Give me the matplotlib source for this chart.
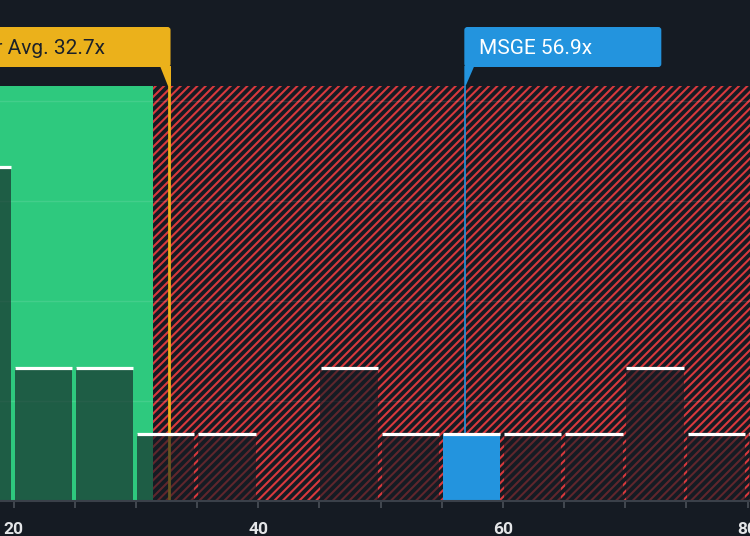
import matplotlib.pyplot as plt
from matplotlib.patches import FancyBboxPatch, Polygon

# histogram of P/E ratios (bin start, count)
bin_starts = [15, 20, 25, 30, 35, 40, 45, 50, 55, 60, 65, 70, 75, 80]
counts = [5, 2, 2, 1, 1, 0, 2, 1, 1, 1, 1, 2, 1, 1]
bin_width = 5
company_bin = 55

peer_avg = 32.7
company_pe = 56.9
green_end = 31.4
peer_label = "Peer Avg. 32.7x"
company_label = "MSGE 56.9x"
tick_values = list(range(20, 81, 5))
grid_values = [1.5, 3, 4.5, 6]

BG = "#151b23"
GREEN = "#2ec97e"
RED = "#d8393d"
YELLOW = "#ebb11b"
BLUE = "#2394de"

plt.rcParams['font.family'] = ['Roboto', 'DejaVu Sans']
plt.rcParams['hatch.linewidth'] = 1.5

fig = plt.figure(figsize=(7.5, 5.36), dpi=100, facecolor=BG)
ax = fig.add_axes([0, 35 / 536, 1, 415 / 536])
x_min, x_max = 18.88, 80.2
ax.set_xlim(x_min, x_max)
ax.set_ylim(0, 6.22)
ax.set_facecolor(BG)

# background zones
ax.axvspan(x_min - 5, green_end, color=GREEN, lw=0, zorder=1)
ax.axvspan(green_end, x_max + 5, facecolor=BG, edgecolor=RED, hatch='////', lw=0, zorder=1)

for g in grid_values:
    ax.axhline(g, color='white', alpha=0.1, lw=1, zorder=2)

ax.axvline(peer_avg, color=YELLOW, lw=2, zorder=3)
ax.axvline(company_pe, color=BLUE, lw=1.2, zorder=3)

# bars
for start, c in zip(bin_starts, counts):
    if c == 0:
        continue
    if start == company_bin:
        ax.bar(start + 0.08, c, width=4.7, align='edge', color=BLUE, zorder=4)
    else:
        ax.bar(start + 0.08, c, width=4.7, align='edge', color=BG, alpha=0.62, lw=0, zorder=4)
    ax.hlines(c, start + 0.1, start + 4.78, color='white', lw=2.3, zorder=5)

# axis styling
for s in ['top', 'left', 'right']:
    ax.spines[s].set_visible(False)
ax.spines['bottom'].set_color('#3a4049')
ax.spines['bottom'].set_linewidth(1.5)
ax.spines['bottom'].set_zorder(6)
ax.set_yticks([])
ax.set_xticks(tick_values)
ax.set_xticklabels([str(t) if t % 20 == 0 else '' for t in tick_values])
ax.tick_params(axis='x', colors='#4a5058', length=5, width=1.2, pad=10,
               labelcolor='#e4e6e8', labelsize=12.5)
for lbl in ax.get_xticklabels():
    lbl.set_fontweight('bold')

# callouts in pixel space
ov = fig.add_axes([0, 0, 1, 1], zorder=10)
ov.set_xlim(0, 750)
ov.set_ylim(536, 0)
ov.axis('off')
ov.patch.set_alpha(0)


def to_px(x):
    return ax.transData.transform((x, 0))[0]


box_top, box_bot, zone_top = 27, 67, 86

yx = to_px(peer_avg)
right = yx + 1.5
ov.add_patch(FancyBboxPatch((-100, box_top), right + 100, box_bot - box_top,
                            boxstyle="round,pad=0,rounding_size=3", fc=YELLOW, ec='none'))
ov.add_patch(Polygon([(right - 11, box_bot - 1), (right, box_bot - 1), (right, zone_top), (yx - 1, zone_top)],
                     closed=True, fc=YELLOW, ec='none'))
ov.text(right - 66, 54.5, peer_label, ha='right', va='baseline', fontsize=15, color='#1c2129')

bx = to_px(company_pe)
left = bx - 0.7
ov.add_patch(FancyBboxPatch((left, box_top), 197, box_bot - box_top,
                            boxstyle="round,pad=0,rounding_size=3", fc=BLUE, ec='none'))
ov.add_patch(Polygon([(left, box_bot - 1), (left + 10, box_bot - 1), (bx + 0.6, zone_top), (left, zone_top)],
                     closed=True, fc=BLUE, ec='none'))
ov.text(left + 15, 54, company_label, ha='left', va='baseline', fontsize=15, color='white')

fig.savefig('out.png', dpi=100, facecolor=BG)
